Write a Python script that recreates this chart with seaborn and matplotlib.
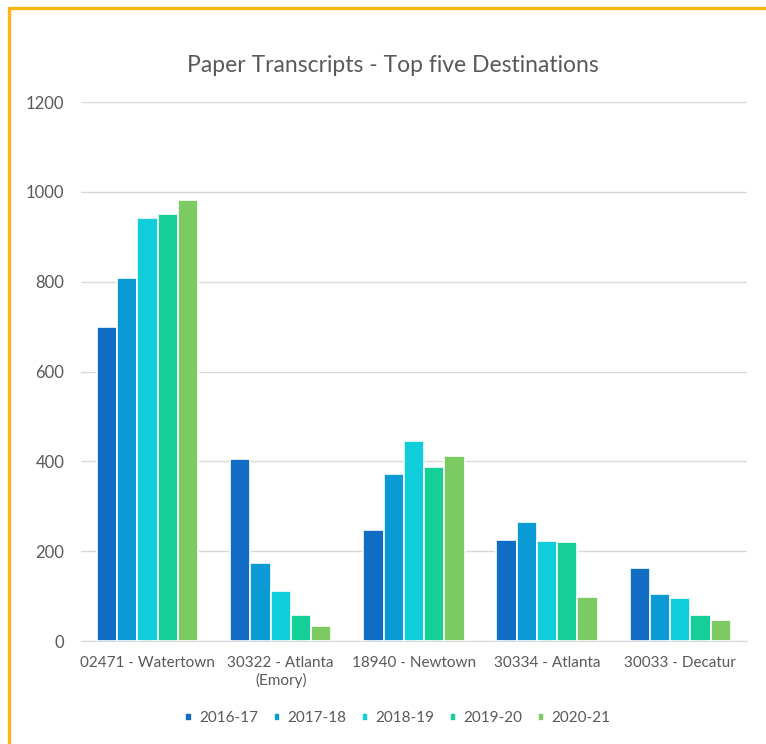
import matplotlib.pyplot as plt
import matplotlib.lines as mlines
import pandas as pd
import seaborn as sns

destinations = [
    "02471 - Watertown",
    "30322 - Atlanta\n(Emory)",
    "18940 - Newtown",
    "30334 - Atlanta",
    "30033 - Decatur",
]
years = ["2016-17", "2017-18", "2018-19", "2019-20", "2020-21"]
y2016_17 = [700, 405, 248, 226, 163]
y2017_18 = [808, 174, 372, 266, 105]
y2018_19 = [942, 112, 446, 223, 95]
y2019_20 = [950, 58, 387, 220, 58]
y2020_21 = [982, 33, 412, 97, 47]
palette = ["#116cc4", "#0a9ad6", "#10cddb", "#14cf98", "#7ccb62"]

rows = []
for year, values in zip(years, [y2016_17, y2017_18, y2018_19, y2019_20, y2020_21]):
    for dest, v in zip(destinations, values):
        rows.append({"destination": dest, "year": year, "count": v})
df = pd.DataFrame(rows)

sns.set_style("white")
plt.rcParams["font.family"] = ["Lato", "DejaVu Sans"]
text_color = "#595959"

fig = plt.figure(figsize=(7.66, 7.44), dpi=100)
ax = fig.add_axes([0.1057, 0.1384, 0.8693, 0.7245])

sns.barplot(
    data=df,
    x="destination",
    y="count",
    hue="year",
    palette=palette,
    width=0.76,
    edgecolor="white",
    linewidth=1.2,
    saturation=1,
    ax=ax,
    zorder=3,
)

ax.set_ylim(0, 1200)
ax.set_yticks(range(0, 1201, 200))
ax.yaxis.grid(True, color="#d9d9d9", linewidth=1.0, zorder=0)
ax.set_axisbelow(True)
ax.set_xlabel("")
ax.set_ylabel("")
for side in ["top", "right", "left"]:
    ax.spines[side].set_visible(False)
ax.spines["bottom"].set_color("#d9d9d9")
ax.tick_params(axis="both", length=0, colors=text_color)
ax.tick_params(axis="y", pad=12, labelsize=12)
ax.tick_params(axis="x", pad=11, labelsize=11)

fig.suptitle("Paper Transcripts - Top five Destinations", x=0.513, y=0.912,
             va="center", fontsize=16.5, color=text_color)

leg = ax.legend(
    loc="upper center",
    bbox_to_anchor=(0.476, -0.105),
    ncol=5,
    frameon=False,
    fontsize=11,
    handlelength=0.45,
    handleheight=0.45,
    handletextpad=0.45,
    columnspacing=1.0,
)
for t in leg.get_texts():
    t.set_color(text_color)

# orange frame around the chart (cropped at right and bottom)
fig.add_artist(mlines.Line2D([0.0113, 1.0], [0.9892, 0.9892], color="#fdb515",
                             linewidth=2.4, transform=fig.transFigure))
fig.add_artist(mlines.Line2D([0.0113, 0.0113], [0.0, 0.9892], color="#fdb515",
                             linewidth=2.4, transform=fig.transFigure))

fig.savefig("out.png", dpi=100)
